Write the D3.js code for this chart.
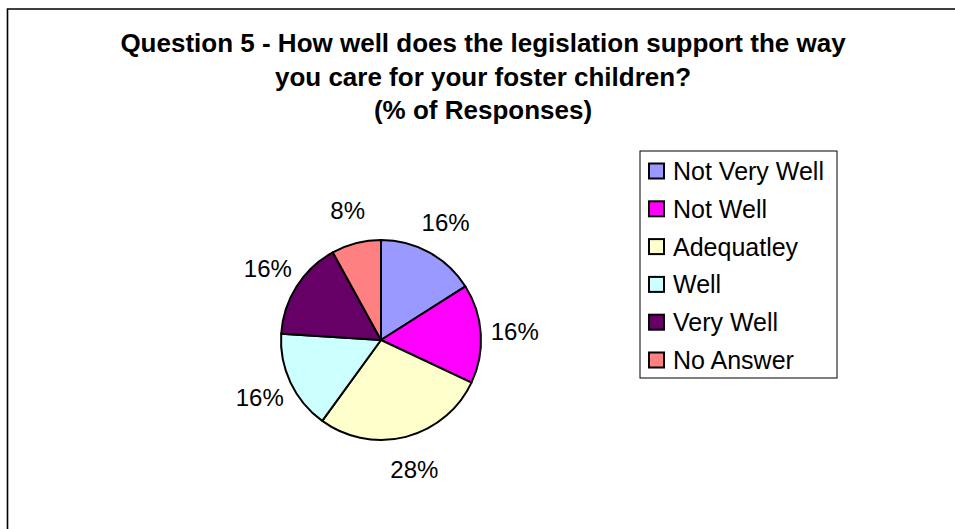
<!DOCTYPE html>
<html>
<head>
<meta charset="utf-8">
<script src="https://cdn.jsdelivr.net/npm/d3@7"></script>
<style>
  body { margin: 0; background: #fff; overflow: hidden; }
  svg { display: block; font-family: Arial, "Liberation Sans", sans-serif; }
</style>
</head>
<body>
<div id="chart"></div>
<script>
const kategorije = ["Not Very Well", "Not Well", "Adequatley", "Well", "Very Well", "No Answer"];
const postotci = [16, 16, 28, 16, 16, 8];
const boje = ["#9999FF", "#FF00FF", "#FFFFCC", "#CCFFFF", "#660066", "#FF8080"];
const naslov = [
  "Question 5 - How well does the legislation support the way",
  "you care for your foster children?",
  "(% of Responses)"
];

const sirina = 955, visina = 529;

const svg = d3.select("#chart").append("svg")
  .attr("width", sirina)
  .attr("height", visina);

// okvir grafa - vidi se samo gornji i lijevi rub
svg.append("path")
  .attr("d", `M7.5,${visina} V9 H${sirina}`)
  .attr("fill", "none")
  .attr("stroke", "#000")
  .attr("stroke-width", 1.6);

// naslov
svg.append("g")
  .selectAll("text")
  .data(naslov)
  .enter().append("text")
  .attr("x", 483)
  .attr("y", (d, i) => 52 + i * 33.5)
  .attr("text-anchor", "middle")
  .attr("font-weight", "bold")
  .attr("font-size", 26)
  .text(d => d);

// pita
const cx = 381, cy = 340, r = 100;
const pie = d3.pie().sort(null).value(d => d);
const luk = d3.arc().innerRadius(0).outerRadius(r);
const lukOznake = d3.arc().innerRadius(134).outerRadius(134);

const pitaG = svg.append("g").attr("transform", `translate(${cx},${cy})`);
const dijelovi = pie(postotci);

pitaG.selectAll("path")
  .data(dijelovi)
  .enter().append("path")
  .attr("d", luk)
  .attr("fill", (d, i) => boje[i])
  .attr("stroke", "#000")
  .attr("stroke-width", 2)
  .attr("stroke-linejoin", "round");

pitaG.selectAll("text")
  .data(dijelovi)
  .enter().append("text")
  .attr("transform", d => `translate(${lukOznake.centroid(d)})`)
  .attr("text-anchor", "middle")
  .attr("dy", "0.36em")
  .attr("font-size", 24)
  .text(d => `${d.data}%`);

// legenda
const leg = svg.append("g").attr("transform", "translate(640,151)");
leg.append("rect")
  .attr("width", 197).attr("height", 227)
  .attr("fill", "#fff")
  .attr("stroke", "#000")
  .attr("stroke-width", 1);

const stavke = leg.selectAll(".stavka")
  .data(kategorije)
  .enter().append("g")
  .attr("class", "stavka")
  .attr("transform", (d, i) => `translate(9,${20 + i * 37.8})`);

stavke.append("rect")
  .attr("x", 0).attr("y", -7.5)
  .attr("width", 15).attr("height", 15)
  .attr("fill", (d, i) => boje[i])
  .attr("stroke", "#000")
  .attr("stroke-width", 2);

stavke.append("text")
  .attr("x", 24)
  .attr("dy", "0.36em")
  .attr("font-size", 25)
  .text(d => d);
</script>
</body>
</html>
